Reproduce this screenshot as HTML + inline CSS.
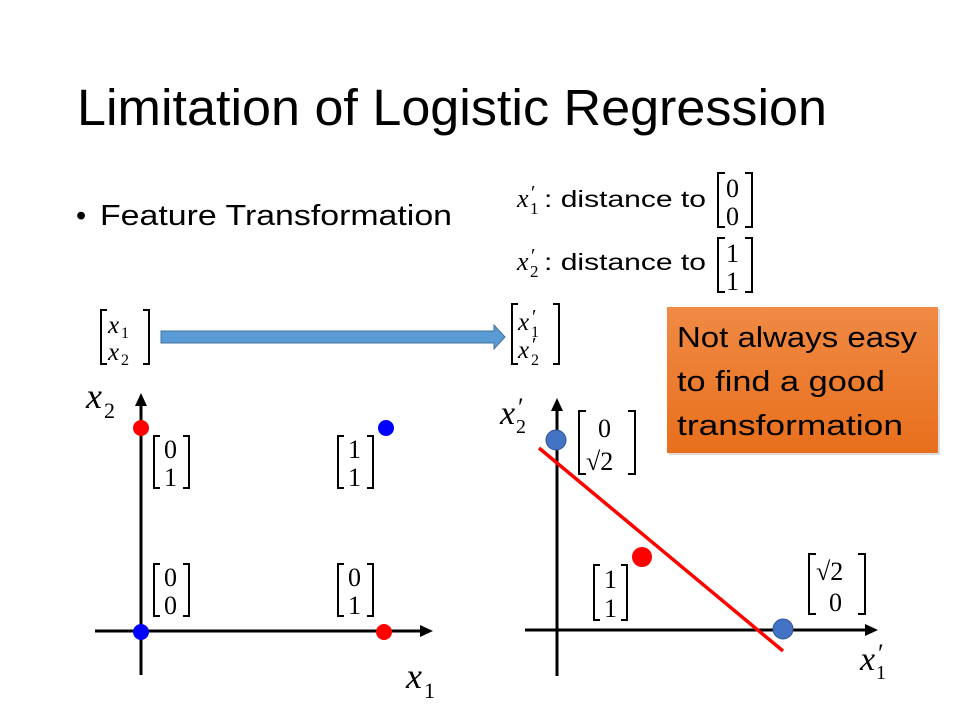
<!DOCTYPE html>
<html><head><meta charset="utf-8"><style>
body{margin:0;background:#fff;}
svg{display:block}
.m{font-family:"Liberation Serif",serif;fill:#000}
.i{font-family:"Liberation Serif",serif;font-style:italic;fill:#000}
.s{font-family:"Liberation Sans",sans-serif;fill:#000}
</style></head><body>
<svg width="960" height="720" viewBox="0 0 960 720" xmlns="http://www.w3.org/2000/svg">
<text x="77" y="125" class="s" font-size="51" fill="#262626" textLength="750" lengthAdjust="spacingAndGlyphs">Limitation of Logistic Regression</text>
<text x="76" y="225" class="s" font-size="29">•</text>
<text x="100" y="225" class="s" font-size="29" textLength="352" lengthAdjust="spacingAndGlyphs">Feature Transformation</text>

<!-- top right definitions -->
<text x="517" y="207" class="i" font-size="26">x</text><text x="530" y="214" class="m" font-size="17">1</text><text x="531" y="199" class="m" font-size="20">′</text>
<text x="544" y="207" class="s" font-size="23" textLength="162" lengthAdjust="spacingAndGlyphs">: distance to</text>
<g fill="none" stroke="#000" stroke-width="2">
<path d="M725 173 H718 V227 H725"/><path d="M745 173 H752 V227 H745"/>
<path d="M725 238 H718 V292 H725"/><path d="M745 238 H752 V292 H745"/>
</g>
<text x="726" y="197" class="m" font-size="26">0</text><text x="726" y="225" class="m" font-size="26">0</text>
<text x="517" y="270" class="i" font-size="26">x</text><text x="530" y="277" class="m" font-size="17">2</text><text x="531" y="262" class="m" font-size="20">′</text>
<text x="544" y="270" class="s" font-size="23" textLength="162" lengthAdjust="spacingAndGlyphs">: distance to</text>
<text x="726" y="262" class="m" font-size="26">1</text><text x="726" y="290" class="m" font-size="26">1</text>

<!-- [x1;x2] -->
<g fill="none" stroke="#000" stroke-width="2">
<path d="M107 310 H101 V364 H107"/><path d="M143 310 H149 V364 H143"/>
<path d="M518 304 H512 V364 H518"/><path d="M553 304 H559 V364 H553"/>
</g>
<text x="108" y="333" class="i" font-size="25">x</text><text x="121" y="338" class="m" font-size="16">1</text>
<text x="108" y="360" class="i" font-size="25">x</text><text x="121" y="365" class="m" font-size="16">2</text>
<text x="518" y="330" class="i" font-size="25">x</text><text x="531" y="337" class="m" font-size="16">1</text><text x="532" y="323" class="m" font-size="20">′</text>
<text x="518" y="358" class="i" font-size="25">x</text><text x="531" y="365" class="m" font-size="16">2</text><text x="532" y="351" class="m" font-size="20">′</text>

<!-- blue arrow -->
<path d="M161 331 H494 V325 L505 337 L494 349 V343 H161 Z" fill="#5b9bd5" stroke="#41719c" stroke-width="1"/>

<!-- orange box -->
<defs><linearGradient id="og" x1="0" y1="0" x2="0" y2="1"><stop offset="0" stop-color="#f08a45"/><stop offset="1" stop-color="#e86f1c"/></linearGradient></defs>
<rect x="669" y="309" width="271" height="146" fill="#bbb" opacity="0.5"/>
<rect x="667" y="307" width="271" height="146" fill="url(#og)"/>
<text x="677" y="347" class="s" font-size="29" fill="#fff" textLength="240" lengthAdjust="spacingAndGlyphs">Not always easy</text>
<text x="677" y="391" class="s" font-size="29" fill="#fff" textLength="208" lengthAdjust="spacingAndGlyphs">to find a good</text>
<text x="677" y="435" class="s" font-size="29" fill="#fff" textLength="226" lengthAdjust="spacingAndGlyphs">transformation</text>

<!-- left plot -->
<g stroke="#000" stroke-width="3">
<line x1="141" y1="675" x2="141" y2="402"/>
<line x1="95" y1="631" x2="424" y2="631"/>
</g>
<path d="M141 393 L135 406 L147 406 Z" fill="#000"/>
<path d="M433 631 L420 625 L420 637 Z" fill="#000"/>
<circle cx="141" cy="428" r="8" fill="#f00"/>
<circle cx="386" cy="428" r="8" fill="#00f"/>
<circle cx="141" cy="632" r="8" fill="#00f"/>
<circle cx="384" cy="632" r="8" fill="#f00"/>
<text x="86" y="408" class="i" font-size="36">x</text><text x="104" y="418" class="m" font-size="22">2</text>
<text x="406" y="688" class="i" font-size="36">x</text><text x="424" y="698" class="m" font-size="22">1</text>
<g fill="none" stroke="#000" stroke-width="2">
<path d="M160 436 H154 V488 H160"/><path d="M183 436 H189 V488 H183"/>
<path d="M344 436 H338 V488 H344"/><path d="M367 436 H373 V488 H367"/>
<path d="M160 564 H154 V616 H160"/><path d="M183 564 H189 V616 H183"/>
<path d="M344 564 H338 V616 H344"/><path d="M367 564 H373 V616 H367"/>
</g>
<g class="m" font-size="26">
<text x="164" y="458">0</text><text x="164" y="486">1</text>
<text x="348" y="458">1</text><text x="348" y="486">1</text>
<text x="164" y="586">0</text><text x="164" y="614">0</text>
<text x="348" y="586">0</text><text x="348" y="614">1</text>
</g>

<!-- right plot -->
<g stroke="#000" stroke-width="3">
<line x1="557" y1="676" x2="557" y2="408"/>
<line x1="525" y1="630" x2="868" y2="630"/>
</g>
<path d="M557 398 L551 411 L563 411 Z" fill="#000"/>
<path d="M878 630 L865 624 L865 636 Z" fill="#000"/>
<line x1="539" y1="448" x2="783" y2="651" stroke="#f00" stroke-width="3.5"/>
<circle cx="556" cy="440" r="10" fill="#4472c4" stroke="#2f5597" stroke-width="1"/>
<circle cx="642" cy="557" r="10" fill="#f00"/>
<circle cx="783" cy="629" r="10" fill="#4472c4" stroke="#2f5597" stroke-width="1"/>
<text x="500" y="424" class="i" font-size="34">x</text><text x="516" y="433" class="m" font-size="20">2</text><text x="518" y="416" class="m" font-size="26">′</text>
<text x="860" y="670" class="i" font-size="34">x</text><text x="876" y="679" class="m" font-size="20">1</text><text x="878" y="662" class="m" font-size="26">′</text>
<g fill="none" stroke="#000" stroke-width="2">
<path d="M586 411 H579 V474 H586"/><path d="M628 411 H635 V474 H628"/>
<path d="M600 565 H594 V620 H600"/><path d="M621 565 H627 V620 H621"/>
<path d="M816 554 H809 V614 H816"/><path d="M858 554 H865 V614 H858"/>
</g>
<g class="m" font-size="26">
<text x="598" y="437">0</text><text x="586" y="470">√2</text>
<text x="604" y="588">1</text><text x="604" y="617">1</text>
<text x="816" y="580">√2</text><text x="829" y="611">0</text>
</g>
</svg>
</body></html>
